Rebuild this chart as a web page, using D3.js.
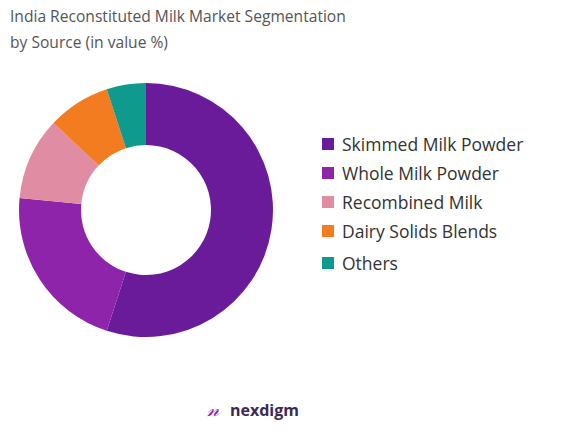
<!DOCTYPE html><html><head><meta charset="utf-8"><script src="https://cdn.jsdelivr.net/npm/d3@7"></script>
<style>body{margin:0;background:#fff}</style></head><body><svg width="565" height="430"></svg><script>
const categories=["Skimmed Milk Powder","Whole Milk Powder","Recombined Milk","Dairy Solids Blends","Others"];
const values=[55,21.5,10.5,8,5];
const colors=["#6a1b9a","#8e24aa","#e08ca2","#f47c20","#0e9a8c"];
const svg=d3.select("svg");
const f="'Open Sans', sans-serif";
svg.append("text").attr("x",10).attr("y",22).attr("font-family",f).attr("font-size",15.6).attr("fill","#555").text("India Reconstituted Milk Market Segmentation");
svg.append("text").attr("x",10).attr("y",48).attr("font-family",f).attr("font-size",15.6).attr("fill","#555").text("by Source (in value %)");
const pie=d3.pie().sort(null)(values);
const arc=d3.arc().innerRadius(65).outerRadius(127);
const g=svg.append("g").attr("transform","translate(146,210)");
g.selectAll("path").data(pie).join("path").attr("d",arc).attr("fill",(d,i)=>colors[i]);
const lg=svg.append("g").attr("transform","translate(322,145)");
categories.forEach((c,i)=>{const y=i*29+(i==4?3:0);
lg.append("rect").attr("x",0).attr("y",y-7).attr("width",12).attr("height",12).attr("fill",colors[i]);
lg.append("text").attr("x",20).attr("y",y+6).attr("font-family",f).attr("font-size",17.5).attr("fill","#333").text(c);});
svg.append("text").attr("x",207).attr("y",416).attr("font-family",f).attr("font-size",20).attr("fill","#8e24aa").attr("font-style","italic").text("𝓃");
svg.append("text").attr("x",230).attr("y",416).attr("font-family",f).attr("font-size",16).attr("font-weight","bold").attr("fill","#3a2a5a").text("nexdigm");
</script></body></html>
